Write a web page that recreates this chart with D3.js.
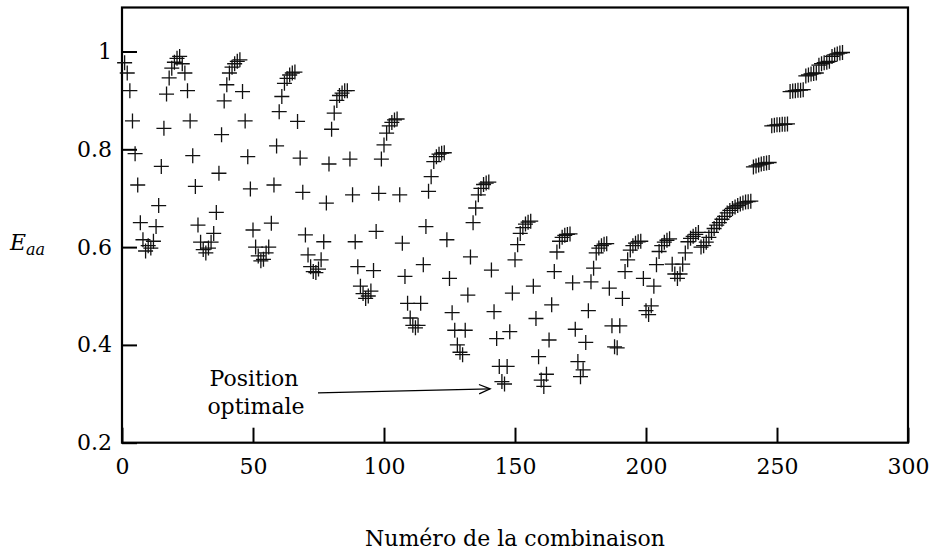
<!DOCTYPE html>
<html>
<head>
<meta charset="utf-8">
<script src="https://cdn.jsdelivr.net/npm/d3@7"></script>
<style>
  html, body { margin: 0; padding: 0; background: #fff; }
  svg text { font-family: "DejaVu Serif", "Liberation Serif", serif; fill: #000; }
</style>
</head>
<body>
<svg id="chart" width="935" height="552"></svg>
<script>
// Eaa values, in order of combination number (1..275), grouped by sweep
const sweep1  = [0.977,0.956,0.92,0.858,0.791,0.727,0.65,0.615,0.592,0.603,0.598,0.612,0.642,0.685,0.765,0.843,0.913,0.946,0.966,0.978,0.986,0.99];
const sweep2  = [0.975,0.956,0.92,0.858,0.787,0.724,0.645,0.61,0.595,0.588,0.598,0.61,0.628,0.671,0.751,0.83,0.899,0.932,0.956,0.968,0.975,0.98,0.983];
const sweep3  = [0.918,0.858,0.785,0.719,0.635,0.6,0.582,0.572,0.575,0.588,0.6,0.649,0.727,0.807,0.877,0.908,0.935,0.945,0.952,0.956,0.958];
const sweep4  = [0.857,0.782,0.712,0.625,0.584,0.56,0.55,0.548,0.555,0.574,0.611,0.69,0.77,0.841,0.874,0.9,0.91,0.915,0.92,0.92];
const sweep5  = [0.78,0.707,0.611,0.56,0.52,0.505,0.495,0.5,0.51,0.552,0.632,0.71,0.78,0.809,0.833,0.848,0.855,0.86,0.862];
const sweep6  = [0.707,0.608,0.54,0.485,0.455,0.44,0.435,0.44,0.485,0.564,0.642,0.714,0.744,0.775,0.785,0.79,0.792];
const sweep7  = [0.793,0.615,0.536,0.466,0.43,0.4,0.385,0.38,0.43,0.502,0.58,0.65,0.68,0.707,0.72,0.728,0.731,0.733];
const sweep8  = [0.553,0.468,0.413,0.356,0.325,0.32,0.356,0.427,0.506,0.574,0.605,0.628,0.64,0.647,0.651,0.653];
const sweep9  = [0.52,0.454,0.376,0.328,0.315,0.34,0.41,0.482,0.55,0.59,0.612,0.62,0.624,0.626];
const sweep10 = [0.627,0.527,0.432,0.366,0.335,0.349,0.405,0.47,0.529,0.557,0.588,0.598,0.603,0.606,0.607];
const sweep11 = [0.516,0.439,0.396,0.394,0.439,0.495,0.55,0.574,0.594,0.603,0.608,0.611,0.612];
const sweep12 = [0.536,0.47,0.462,0.48,0.52,0.564,0.591,0.603,0.61,0.614,0.617];
const sweep13 = [0.565,0.545,0.536,0.545,0.565,0.588,0.611,0.618,0.622,0.626,0.63];
const sweep14 = [0.6,0.603,0.61,0.62,0.63,0.638,0.645,0.65,0.657,0.663,0.67,0.675,0.679,0.682,0.685,0.688,0.69,0.692,0.693,0.694];
const sweep15 = [0.764,0.766,0.768,0.77,0.771,0.772,0.773];
const sweep16 = [0.848,0.849,0.85,0.85,0.851,0.851,0.852];
const sweep17 = [0.918,0.919,0.92,0.921,0.921,0.922];
const sweep18 = [0.95,0.952,0.954,0.955,0.956];
const sweep19 = [0.972,0.975,0.977,0.978,0.98];
const sweep20 = [0.99,0.993,0.995,0.997,0.998];

const xTicks = [0, 50, 100, 150, 200, 250, 300];
const yTicks = [0.2, 0.4, 0.6, 0.8, 1];
const xTitle = "Numéro de la combinaison";
const annotationLines = ["Position", "optimale"];

const values = [].concat(sweep1, sweep2, sweep3, sweep4, sweep5, sweep6, sweep7, sweep8, sweep9, sweep10,
                         sweep11, sweep12, sweep13, sweep14, sweep15, sweep16, sweep17, sweep18, sweep19, sweep20);
const points = values.map((v, i) => ({ n: i + 1, e: v }));

const svg = d3.select("#chart");
const mL = 122, mR = 908, mT = 7.5, mB = 442.7;
const x = d3.scaleLinear().domain([0, 300]).range([mL, mR]);
const y = d3.scaleLinear().domain([0.2, 1.09]).range([mB, mT]);
const fontSize = 22;
const serif = "'DejaVu Serif', 'Liberation Serif', serif";

// axes (ticks inward)
const gx = svg.append("g").attr("transform", `translate(0,${mB})`)
  .call(d3.axisBottom(x).tickValues(xTicks).tickSize(-15).tickPadding(16).tickFormat(d3.format("d")));
const gy = svg.append("g").attr("transform", `translate(${mL},0)`)
  .call(d3.axisLeft(y).tickValues(yTicks).tickSize(-15).tickPadding(10).tickFormat(d => d === 1 ? "1" : d3.format(".1f")(d)));
[gx, gy].forEach(g => {
  g.attr("font-family", serif);
  g.select(".domain").remove();
  g.selectAll(".tick line").attr("stroke", "#000").attr("stroke-width", 2);
  g.selectAll(".tick text").attr("font-size", fontSize).style("font-family", serif);
});

// frame
svg.append("rect").attr("x", mL).attr("y", mT).attr("width", mR - mL).attr("height", mB - mT)
  .attr("fill", "none").attr("stroke", "#000").attr("stroke-width", 2.2);

// points as "+"
const arm = 7.5;
svg.append("g").selectAll("path").data(points).join("path")
  .attr("transform", d => `translate(${x(d.n)},${y(d.e)})`)
  .attr("d", `M${-arm},0H${arm}M0,${-arm}V${arm}`)
  .attr("stroke", "#111").attr("stroke-width", 1.3).attr("fill", "none");

// axis titles
svg.append("text").attr("x", (mL + mR) / 2).attr("y", 546).attr("text-anchor", "middle")
  .attr("font-size", fontSize).style("font-family", serif).text(xTitle);
const yl = svg.append("text").attr("x", 10).attr("y", 250).attr("font-size", fontSize)
  .attr("font-style", "italic").style("font-family", serif);
yl.append("tspan").text("E");
yl.append("tspan").attr("dy", 5).attr("font-size", 16).text("aa");

// annotation
const ann = svg.append("text").attr("text-anchor", "middle").attr("font-size", fontSize).style("font-family", serif);
ann.append("tspan").attr("x", 254).attr("y", 386).text(annotationLines[0]);
ann.append("tspan").attr("x", 256).attr("y", 414).text(annotationLines[1]);
const ax0 = x(74.8), ay0 = y(0.302), ax1 = x(140.5), ay1 = y(0.31);
svg.append("line").attr("x1", ax0).attr("y1", ay0).attr("x2", ax1).attr("y2", ay1)
  .attr("stroke", "#000").attr("stroke-width", 1.3);
const ang = Math.atan2(ay1 - ay0, ax1 - ax0), hl = 12, ha = 0.4;
svg.append("path")
  .attr("d", `M${ax1 - hl * Math.cos(ang - ha)},${ay1 - hl * Math.sin(ang - ha)}L${ax1},${ay1}L${ax1 - hl * Math.cos(ang + ha)},${ay1 - hl * Math.sin(ang + ha)}`)
  .attr("stroke", "#000").attr("stroke-width", 1.3).attr("fill", "none");
</script>
</body>
</html>
